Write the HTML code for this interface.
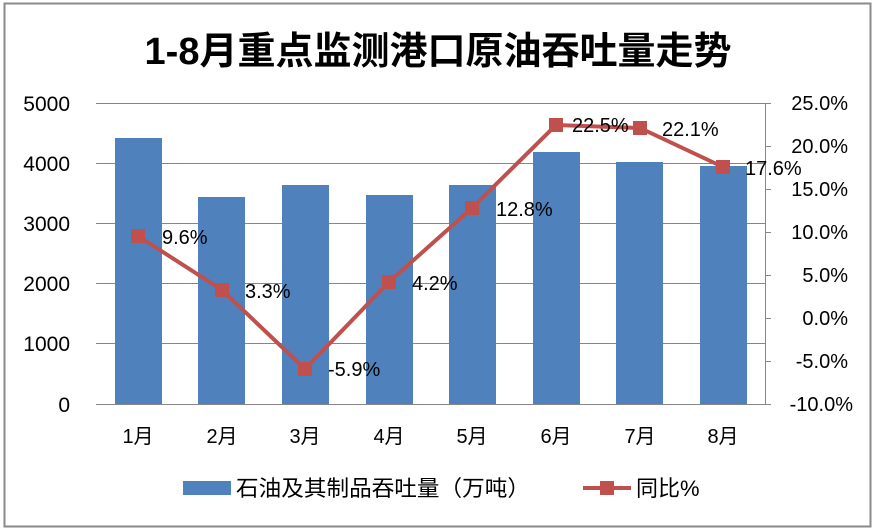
<!DOCTYPE html><html><head><meta charset="utf-8"><style>body{margin:0;background:#fff}svg{display:block}text{font-family:"Liberation Sans","Noto Sans CJK SC",sans-serif;fill:#000}</style></head><body>
<svg width="876" height="531" viewBox="0 0 876 531">
<rect x="0" y="0" width="876" height="531" fill="#fff"/>
<rect x="4.5" y="3.5" width="866" height="523" fill="none" stroke="#8a8a8a" stroke-width="2"/>
<text x="438" y="64" font-size="38" font-weight="bold" text-anchor="middle">1-8月重点监测港口原油吞吐量走势</text>
<g stroke="#868686" stroke-width="1">
<line x1="96" y1="103.5" x2="765" y2="103.5"/><line x1="96" y1="163.5" x2="765" y2="163.5"/><line x1="96" y1="223.5" x2="765" y2="223.5"/><line x1="96" y1="283.5" x2="765" y2="283.5"/><line x1="96" y1="343.5" x2="765" y2="343.5"/><line x1="96" y1="404.5" x2="765" y2="404.5"/>
<line x1="765.5" y1="103" x2="765.5" y2="404"/>
<line x1="765" y1="103.5" x2="771" y2="103.5"/><line x1="765" y1="146.5" x2="771" y2="146.5"/><line x1="765" y1="189.5" x2="771" y2="189.5"/><line x1="765" y1="232.5" x2="771" y2="232.5"/><line x1="765" y1="275.5" x2="771" y2="275.5"/><line x1="765" y1="318.5" x2="771" y2="318.5"/><line x1="765" y1="361.5" x2="771" y2="361.5"/><line x1="765" y1="404.5" x2="771" y2="404.5"/>
</g>
<g font-size="21" text-anchor="end">
<text x="70" y="111">5000</text><text x="70" y="171">4000</text><text x="70" y="231">3000</text><text x="70" y="291">2000</text><text x="70" y="351">1000</text><text x="70" y="412">0</text>
</g>
<g font-size="20" text-anchor="end">
<text x="848" y="110">25.0%</text><text x="848" y="153">20.0%</text><text x="848" y="196">15.0%</text><text x="848" y="239">10.0%</text><text x="848" y="282">5.0%</text><text x="848" y="325">0.0%</text><text x="848" y="368">-5.0%</text><text x="853" y="411">-10.0%</text>
</g>
<g fill="#4f81bd">
<rect x="115" y="138" width="47" height="266"/><rect x="198" y="197" width="47" height="207"/><rect x="282" y="185" width="47" height="219"/><rect x="366" y="195" width="47" height="209"/><rect x="449" y="185" width="47" height="219"/><rect x="533" y="152" width="47" height="252"/><rect x="616" y="162" width="47" height="242"/><rect x="700" y="166" width="47" height="238"/>
</g>
<polyline points="138,236 222,290 305,369 389,282 472,208 556,125 640,128 723,167" fill="none" stroke="#c0504d" stroke-width="4"/>
<g fill="#c0504d">
<rect x="131" y="229" width="14" height="14"/><rect x="215" y="283" width="14" height="14"/><rect x="298" y="362" width="14" height="14"/><rect x="382" y="275" width="14" height="14"/><rect x="465" y="201" width="14" height="14"/><rect x="549" y="118" width="14" height="14"/><rect x="633" y="121" width="14" height="14"/><rect x="716" y="160" width="14" height="14"/>
</g>
<g font-size="20">
<text x="162" y="244">9.6%</text><text x="245" y="298">3.3%</text><text x="328" y="376">-5.9%</text><text x="412" y="290">4.2%</text><text x="496" y="216">12.8%</text><text x="572" y="132">22.5%</text><text x="662" y="136">22.1%</text><text x="745" y="175">17.6%</text>
</g>
<g font-size="20" text-anchor="middle">
<text x="138" y="443">1月</text><text x="222" y="443">2月</text><text x="305" y="443">3月</text><text x="389" y="443">4月</text><text x="472" y="443">5月</text><text x="556" y="443">6月</text><text x="640" y="443">7月</text><text x="723" y="443">8月</text>
</g>
<rect x="183" y="481" width="48" height="14" fill="#4f81bd"/>
<text x="236" y="496" font-size="22" textLength="294" lengthAdjust="spacingAndGlyphs">石油及其制品吞吐量（万吨）</text>
<line x1="583" y1="488" x2="631" y2="488" stroke="#c0504d" stroke-width="4"/>
<rect x="600" y="481" width="14" height="14" fill="#c0504d"/>
<text x="636" y="496" font-size="22">同比%</text>
</svg>
</body></html>
